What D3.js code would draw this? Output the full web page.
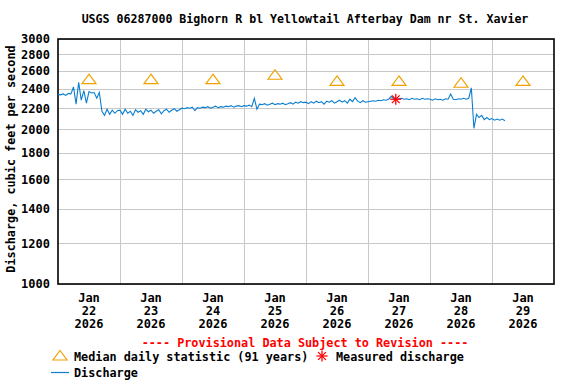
<!DOCTYPE html>
<html><head><meta charset="utf-8">
<script src="https://cdn.jsdelivr.net/npm/d3@7"></script>
<style>
html,body{margin:0;padding:0;background:#fff;}
svg{display:block;}
text{font-family:"DejaVu Sans Mono",monospace;font-weight:bold;}
</style></head>
<body>
<script>
// ---- data ----
const title = "USGS 06287000 Bighorn R bl Yellowtail Afterbay Dam nr St. Xavier";
const yLabel = "Discharge, cubic feet per second";
const yTicks = [1000,1200,1400,1600,1800,2000,2200,2400,2600,2800,3000];
const dayLabels = ["22","23","24","25","26","27","28","29"];
const startDay = "2026-01-22";
// hourly discharge (cfs), one array per day
const jan22 = [2340,2335,2345,2330,2350,2345,2420,2240,2470,2280,2380,2250,2370,2355,2360,2300,2360,2170,2130,2190,2140,2180,2150,2175];
const jan23 = [2180,2140,2190,2150,2170,2130,2185,2160,2175,2140,2190,2165,2180,2150,2170,2185,2145,2175,2190,2160,2180,2195,2170,2185];
const jan24 = [2200,2195,2205,2200,2210,2175,2205,2200,2210,2205,2215,2200,2210,2220,2205,2215,2210,2220,2215,2225,2210,2220,2225,2215];
const jan25 = [2225,2220,2230,2215,2300,2190,2240,2235,2245,2230,2240,2250,2235,2245,2240,2250,2235,2245,2255,2240,2260,2250,2265,2255];
const jan26 = [2260,2245,2265,2250,2270,2255,2265,2240,2270,2260,2275,2250,2265,2280,2260,2275,2250,2290,2265,2305,2270,2255,2275,2260];
const jan27 = [2265,2270,2275,2270,2280,2275,2285,2280,2290,2320,2295,2290,2295,2300,2290,2295,2285,2300,2290,2295,2285,2300,2290,2295];
const jan28 = [2290,2280,2295,2285,2290,2280,2295,2290,2345,2290,2285,2295,2290,2300,2290,2300,2410,2010,2140,2110,2130,2090,2110,2090];
const jan29 = [2100,2085,2095,2085,2095,2080];
const medians = [2500,2500,2500,2550,2480,2480,2460,2480];
const measuredTime = "2026-01-27T10:45:00Z";
const measuredValue = 2290;

// ---- build ----
const W = 576, H = 384;
const m = {left:58, right:554, top:39, bottom:284};
const svg = d3.select("body").append("svg").attr("width",W).attr("height",H);

const t0 = new Date(startDay+"T00:00:00Z");
const t1 = d3.utcDay.offset(t0, 8);
const x = d3.scaleUtc().domain([t0,t1]).range([m.left,m.right]);
const y = d3.scaleLog().domain([1000,3000]).range([m.bottom,m.top]);

const allDays = [jan22,jan23,jan24,jan25,jan26,jan27,jan28,jan29];
const series = [];
allDays.forEach((arr,d)=>arr.forEach((v,h)=>series.push({t:d3.utcHour.offset(t0,d*24+h),v})));

// grid
const grid = svg.append("g").attr("stroke","#c8c8c8").attr("stroke-width",1);
yTicks.forEach(v=>grid.append("line").attr("x1",m.left).attr("x2",m.right).attr("y1",Math.round(y(v))+0.5).attr("y2",Math.round(y(v))+0.5));
d3.range(1,8).forEach(i=>{const xx=Math.round(x(d3.utcDay.offset(t0,i)))+0.5;grid.append("line").attr("x1",xx).attr("x2",xx).attr("y1",m.top).attr("y2",m.bottom);});

// y axis labels
const yAxis = d3.axisLeft(y).tickValues(yTicks).tickFormat(d3.format("d")).tickSize(0).tickPadding(8);
const ga = svg.append("g").attr("transform",`translate(${m.left},0)`).call(yAxis);
ga.select(".domain").remove();
ga.selectAll("text").attr("font-size","12px").attr("font-family","DejaVu Sans Mono").attr("font-weight","bold").attr("fill","#000");

// x labels
const xg = svg.append("g");
dayLabels.forEach((lab,i)=>{
  const cx = x(d3.utcHour.offset(t0,i*24+12));
  const tt = xg.append("text").attr("text-anchor","middle").attr("font-size","12px").attr("fill","#000");
  tt.append("tspan").attr("x",cx).attr("y",302).text("Jan");
  tt.append("tspan").attr("x",cx).attr("y",315).text(lab);
  tt.append("tspan").attr("x",cx).attr("y",328).text("2026");
});

// frame
svg.append("rect").attr("x",m.left).attr("y",m.top).attr("width",m.right-m.left).attr("height",m.bottom-m.top)
  .attr("fill","none").attr("stroke","#000").attr("stroke-width",1.6);

// discharge line
const line = d3.line().x(d=>x(d.t)).y(d=>y(d.v));
svg.append("path").datum(series).attr("d",line).attr("fill","none").attr("stroke","#0a7fd0").attr("stroke-width",1.1);

// medians: open triangle ~14px wide, 9px tall
const orange = "#f0a000";
const triPath = "M0,-5.5L7,4L-7,4Z";
medians.forEach((v,i)=>{
  svg.append("path").attr("d",triPath).attr("transform",`translate(${x(d3.utcHour.offset(t0,i*24+12))},${y(v)})`)
    .attr("fill","none").attr("stroke",orange).attr("stroke-width",1.2);
});

// measured asterisk
function asterisk(g,cx,cy,r,color){
  for(let k=0;k<4;k++){
    const a=k*Math.PI/4;
    g.append("line").attr("x1",cx-r*Math.cos(a)).attr("y1",cy-r*Math.sin(a)).attr("x2",cx+r*Math.cos(a)).attr("y2",cy+r*Math.sin(a))
     .attr("stroke",color).attr("stroke-width",1.3);
  }
}
asterisk(svg,x(new Date(measuredTime)),y(measuredValue),5.5,"#ff0000");

// title
svg.append("text").attr("x",305).attr("y",23).attr("text-anchor","middle").attr("font-size","11.6px").attr("fill","#000").text(title);
// y title
svg.append("text").attr("transform","translate(15,159) rotate(-90)").attr("text-anchor","middle").attr("font-size","11.8px").attr("fill","#000").text(yLabel);

// legend
svg.append("text").attr("x",305).attr("y",347).attr("text-anchor","middle").attr("font-size","11.8px").attr("fill","#ff0000").text("---- Provisional Data Subject to Revision ----");
svg.append("path").attr("d",triPath).attr("transform","translate(60,356)").attr("fill","none").attr("stroke",orange).attr("stroke-width",1.2);
svg.append("text").attr("x",74).attr("y",361).attr("font-size","11.8px").attr("fill","#000").text("Median daily statistic (91 years)");
asterisk(svg,322,356,5.5,"#ff0000");
svg.append("text").attr("x",336).attr("y",361).attr("font-size","11.8px").attr("fill","#000").text("Measured discharge");
svg.append("line").attr("x1",51).attr("x2",69).attr("y1",372.5).attr("y2",372.5).attr("stroke","#0a7fd0").attr("stroke-width",1.2);
svg.append("text").attr("x",74).attr("y",377).attr("font-size","11.8px").attr("fill","#000").text("Discharge");
</script>
</body></html>
